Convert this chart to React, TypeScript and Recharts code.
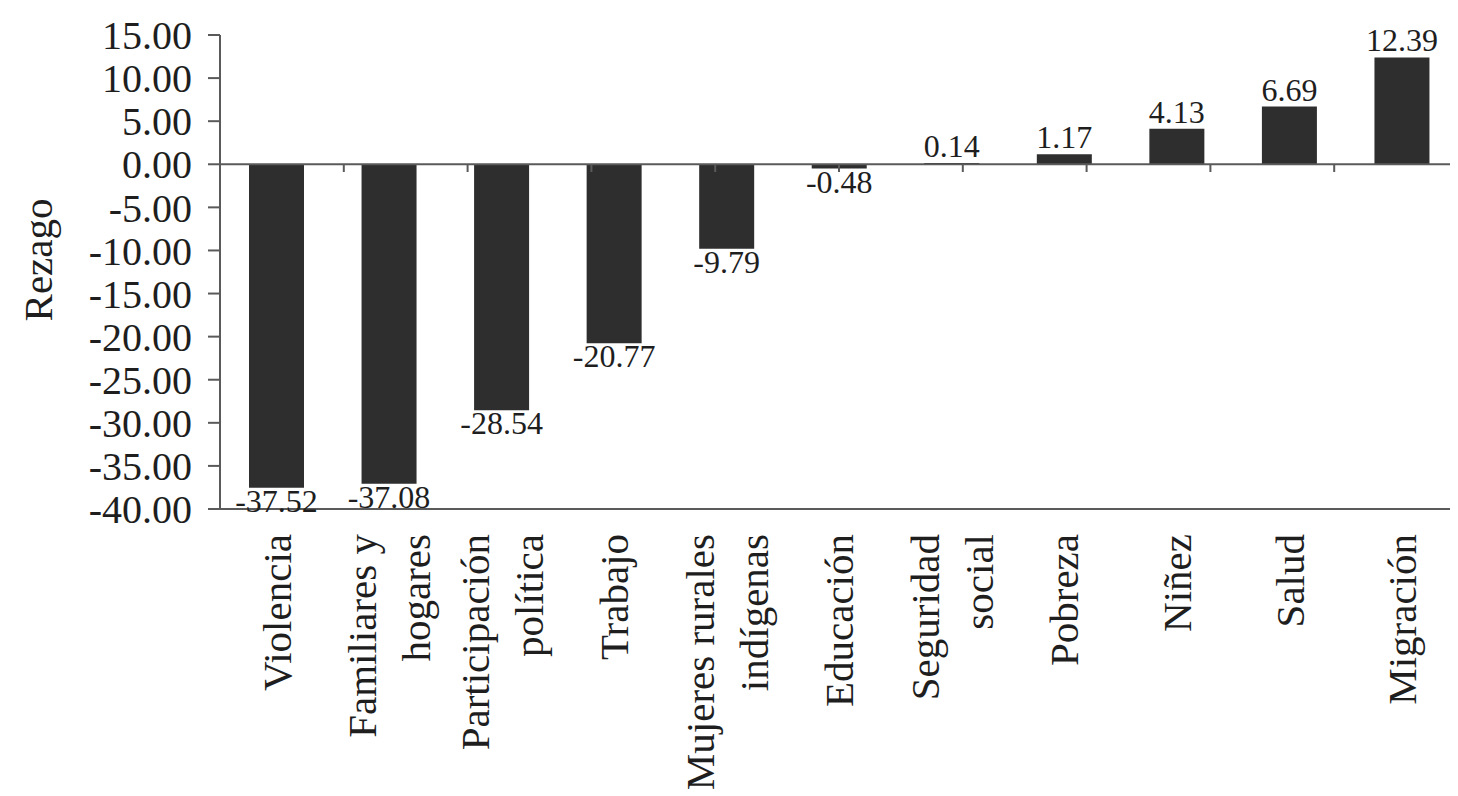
import {
  BarChart,
  Bar,
  XAxis,
  YAxis,
  ReferenceLine,
  LabelList,
} from 'recharts';

// rezago por tema
const categories = [
  'Violencia',
  'Familiares y\nhogares',
  'Participación\npolítica',
  'Trabajo',
  'Mujeres rurales\nindígenas',
  'Educación',
  'Seguridad\nsocial',
  'Pobreza',
  'Niñez',
  'Salud',
  'Migración',
];
const rezago = [-37.52, -37.08, -28.54, -20.77, -9.79, -0.48, 0.14, 1.17, 4.13, 6.69, 12.39];
const yTicks = [-40, -35, -30, -25, -20, -15, -10, -5, 0, 5, 10, 15];

const data = categories.map((name, i) => ({ name, value: rezago[i] }));
// límites entre categorías, para las marcas sobre la línea del cero
const boundaries = categories.slice(1).map((_, i) => i + 1);

const FONT = 'Times New Roman';
const INK = '#1e1e1e';
const AXIS = '#5a5a5a';

function CategoryTick({ x, y, payload }: any) {
  const lines = String(payload.value).split('\n');
  const top = y + 25;
  return (
    <g>
      {lines.map((line, i) => {
        const lx = x + (i - (lines.length - 1) / 2) * 54;
        return (
          <text
            key={i}
            x={lx}
            y={top}
            dy="0.35em"
            textAnchor="end"
            transform={`rotate(-90, ${lx}, ${top})`}
            fontFamily={FONT}
            fontSize={41}
            fill={INK}
          >
            {line}
          </text>
        );
      })}
    </g>
  );
}

function ValueLabel({ x, y, width, height, value }: any) {
  const cx = x + width / 2;
  const top = Math.min(y, y + height);
  const bottom = Math.max(y, y + height);
  const neg = value < 0;
  return (
    <text
      x={cx}
      y={neg ? bottom + 1 : top - 6}
      textAnchor="middle"
      dominantBaseline={neg ? 'hanging' : 'auto'}
      fontFamily={FONT}
      fontSize={32}
      fill={INK}
    >
      {Number(value).toFixed(2)}
    </text>
  );
}

function AxisTitle({ viewBox }: any) {
  const cx = 30;
  const cy = viewBox.y + viewBox.height / 2 - 12;
  return (
    <text
      x={cx}
      y={cy}
      dy="0.35em"
      textAnchor="middle"
      transform={`rotate(-90, ${cx}, ${cy})`}
      fontFamily={FONT}
      fontSize={41}
      fill={INK}
    >
      Rezago
    </text>
  );
}

export default function App() {
  return (
    <BarChart
      width={1450}
      height={788}
      data={data}
      margin={{ top: 27, right: 0, bottom: 0, left: 0 }}
    >
      <XAxis
        xAxisId="cat"
        dataKey="name"
        interval={0}
        height={287}
        tickSize={0}
        tickMargin={0}
        tick={<CategoryTick />}
        axisLine={{ stroke: AXIS, strokeWidth: 2 }}
      />
      <XAxis xAxisId="num" type="number" domain={[0, categories.length]} hide />
      <YAxis
        width={212}
        domain={[-40, 15]}
        ticks={yTicks}
        interval={0}
        tickSize={12}
        tickMargin={16}
        tickFormatter={(v: number) => v.toFixed(2)}
        tick={{ fontFamily: FONT, fontSize: 40, fill: INK }}
        axisLine={{ stroke: AXIS, strokeWidth: 2 }}
        tickLine={{ stroke: AXIS, strokeWidth: 2 }}
        label={<AxisTitle />}
      />
      <ReferenceLine xAxisId="cat" y={0} stroke={AXIS} strokeWidth={2} />
      {boundaries.map((b) => (
        <ReferenceLine
          key={b}
          xAxisId="num"
          segment={[
            { x: b, y: 0 },
            { x: b, y: -0.9 },
          ]}
          stroke={AXIS}
          strokeWidth={2}
        />
      ))}
      <Bar xAxisId="cat" dataKey="value" fill="#2e2e2e" barSize={55} isAnimationActive={false}>
        <LabelList dataKey="value" content={<ValueLabel />} />
      </Bar>
    </BarChart>
  );
}
